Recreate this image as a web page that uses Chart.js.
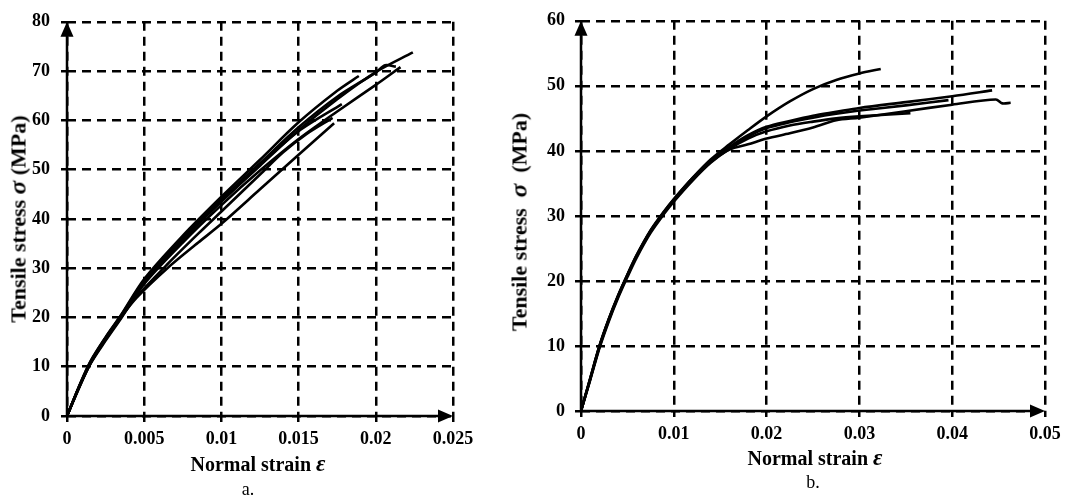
<!DOCTYPE html>
<html>
<head>
<meta charset="utf-8">
<script src="https://cdn.jsdelivr.net/npm/chart.js@4.4.1/dist/chart.umd.min.js"></script>
<style>
  html, body { margin: 0; padding: 0; background: #fff; }
  body { width: 1079px; height: 502px; position: relative; overflow: hidden; font-family: "Liberation Serif", "Times New Roman", serif; color: #000; }
  canvas { position: absolute; top: 0; }
  .t { position: absolute; white-space: nowrap; font-weight: bold; line-height: 1; }
  .t i { font-style: italic; font-size: 1.15em; }
  .xt { transform: translate(-50%, -50%); font-size: 20px; }
  .yt { transform: translate(-50%, -50%) rotate(-90deg) scaleX(1.1); font-size: 20px; }
  .cap { position: absolute; transform: translate(-50%, -50%); font-size: 18px; line-height: 1; }
</style>
</head>
<body>
<canvas id="chartA" width="540" height="502" style="left:0"></canvas>
<canvas id="chartB" width="539" height="502" style="left:540px"></canvas>

<div class="t yt" style="left:18px;top:219px">Tensile stress <i>σ</i> (MPa)</div>
<div class="t xt" style="left:258px;top:463px">Normal strain <i>ε</i></div>
<div class="cap" style="left:248px;top:489px">a.</div>

<div class="t yt" style="left:519px;top:222px">Tensile stress&nbsp; <i>σ</i>&nbsp; (MPa)</div>
<div class="t xt" style="left:815px;top:457px">Normal strain <i>ε</i></div>
<div class="cap" style="left:813px;top:482px">b.</div>

<script>
// ---------- Tick labels ----------
const xTicksA = [0, 0.005, 0.01, 0.015, 0.02, 0.025];
const yTicksA = [0, 10, 20, 30, 40, 50, 60, 70, 80];
const xTicksB = [0, 0.01, 0.02, 0.03, 0.04, 0.05];
const yTicksB = [0, 10, 20, 30, 40, 50, 60];

// ---------- Chart a: [strain, stress MPa] ----------
const a1 = [[0,0],[0.0008,6],[0.0015,10.8],[0.0025,15.8],[0.0035,20.3],[0.005,27.3],[0.0075,36],[0.01,43.5],[0.0125,50.8],[0.015,58],[0.0175,64.3],[0.02,69.8],[0.0224,73.8]];
const a2 = [[0,0],[0.0008,6.2],[0.0015,11],[0.0025,16],[0.0035,20.5],[0.005,27.8],[0.0075,36.6],[0.01,44.5],[0.0125,52],[0.015,59.6],[0.0175,66],[0.0189,69]];
const a3 = [[0,0],[0.0008,5.8],[0.0015,10.5],[0.0025,15.3],[0.0035,19.8],[0.005,26.8],[0.0075,35.2],[0.01,42.8],[0.0125,49.8],[0.015,56.2],[0.0175,61.8],[0.02,67.2],[0.0216,70.8]];
const a4 = [[0,0],[0.0008,6],[0.0015,10.6],[0.0025,15.5],[0.0035,20],[0.005,27],[0.0075,35.6],[0.01,43.6],[0.0125,51],[0.015,57.8],[0.0178,63.3]];
const a5 = [[0,0],[0.0008,6],[0.0015,10.6],[0.0025,15.6],[0.0035,20.1],[0.0045,24],[0.0065,30],[0.0085,35.2],[0.01,39],[0.0125,46],[0.015,53],[0.0173,59.4]];
const a6 = [[0,0],[0.0008,6.1],[0.0015,10.9],[0.0025,15.9],[0.0035,20.4],[0.005,27.5],[0.0075,36.2],[0.01,44],[0.0125,51.3],[0.015,58.6],[0.0175,64.8],[0.02,69.7],[0.0206,71.2],[0.0213,70.9]];
const a7 = [[0,0],[0.0008,6],[0.0015,10.6],[0.0025,15.6],[0.0035,20.1],[0.0045,24.2],[0.0065,30.8],[0.0085,37],[0.01,41.5],[0.0125,49],[0.014,53.5],[0.0155,57.2],[0.0172,60.5]];

// ---------- Chart b: [strain, stress MPa] ----------
const b1 = [[0,0],[0.001,5],[0.002,10],[0.003,14.1],[0.004,17.7],[0.005,20.9],[0.006,23.9],[0.0075,27.7],[0.009,30.7],[0.01,32.5],[0.012,35.8],[0.014,38.7],[0.016,41],[0.018,43.2],[0.02,45.3],[0.0225,47.6],[0.025,49.5],[0.0275,50.9],[0.03,51.9],[0.0323,52.6]];
const b2 = [[0,0],[0.001,5.1],[0.002,10.1],[0.003,14.2],[0.004,17.8],[0.005,21],[0.006,24],[0.0075,27.8],[0.009,30.8],[0.01,32.6],[0.012,35.8],[0.014,38.5],[0.016,40.6],[0.018,42.4],[0.02,43.7],[0.0225,44.6],[0.025,45.4],[0.0275,46],[0.03,46.6],[0.035,47.5],[0.04,48.4],[0.0443,49.3]];
const b3 = [[0,0],[0.001,4.9],[0.002,9.9],[0.003,14],[0.004,17.6],[0.005,20.8],[0.006,23.8],[0.0075,27.6],[0.009,30.6],[0.01,32.4],[0.012,35.6],[0.014,38.4],[0.016,40.5],[0.018,42.2],[0.02,43.5],[0.0225,44.4],[0.025,45.1],[0.0275,45.7],[0.03,46.2],[0.035,47],[0.0396,47.8]];
const b4 = [[0,0],[0.001,4.8],[0.002,9.7],[0.003,13.8],[0.004,17.4],[0.005,20.6],[0.006,23.6],[0.0075,27.4],[0.009,30.4],[0.01,32.2],[0.012,35.4],[0.014,38.2],[0.016,40.3],[0.018,41.9],[0.02,43],[0.0225,43.9],[0.025,44.5],[0.0275,45],[0.03,45.3],[0.0355,45.8]];
const b5 = [[0,0],[0.001,5],[0.002,10],[0.003,14.1],[0.004,17.7],[0.005,20.9],[0.006,23.9],[0.0075,27.7],[0.009,30.6],[0.01,32.4],[0.012,35.6],[0.014,38.3],[0.016,40.2],[0.018,41],[0.02,41.9],[0.0225,42.7],[0.025,43.6],[0.0275,44.7],[0.03,45.1],[0.035,46.1],[0.04,47.1],[0.0447,47.9],[0.0454,47.3],[0.0463,47.4]];

const seriesA = [a1, a2, a3, a4, a5, a6, a7];
const seriesB = [b1, b2, b3, b4, b5];

// ---------- Plugin: solid axes with arrow heads ----------
const axisArrows = {
  id: 'axisArrows',
  afterDatasetsDraw(chart) {
    const { ctx, scales: { x, y } } = chart;
    const x0 = x.getPixelForValue(x.min), x1 = x.getPixelForValue(x.max);
    const y0 = y.getPixelForValue(y.min), y1 = y.getPixelForValue(y.max);
    ctx.save();
    ctx.setLineDash([]);
    ctx.strokeStyle = '#000';
    ctx.fillStyle = '#000';
    ctx.lineWidth = 2.5;
    ctx.beginPath();
    ctx.moveTo(x0, y0); ctx.lineTo(x1 - 8, y0);
    ctx.moveTo(x0, y0); ctx.lineTo(x0, y1 + 8);
    ctx.stroke();
    ctx.beginPath();
    ctx.moveTo(x1, y0); ctx.lineTo(x1 - 15, y0 - 6.5); ctx.lineTo(x1 - 15, y0 + 6.5); ctx.closePath();
    ctx.fill();
    ctx.beginPath();
    ctx.moveTo(x0, y1); ctx.lineTo(x0 - 6.5, y1 + 15); ctx.lineTo(x0 + 6.5, y1 + 15); ctx.closePath();
    ctx.fill();
    ctx.restore();
  }
};

const tickFont = { family: '"Liberation Serif", "Times New Roman", serif', size: 18, weight: 'bold' };

function makeChart(id, series, xMax, xTicks, yMax, yTicks, pad, yWidth, yPad) {
  return new Chart(document.getElementById(id), {
    type: 'scatter',
    data: {
      datasets: series.map(s => ({
        data: s.map(p => ({ x: p[0], y: p[1] })),
        showLine: true,
        borderColor: '#000',
        backgroundColor: '#000',
        borderWidth: 2.6,
        pointRadius: 0,
        pointHoverRadius: 0,
        tension: 0.3,
        fill: false
      }))
    },
    options: {
      responsive: false,
      animation: false,
      devicePixelRatio: 1,
      layout: { padding: pad },
      plugins: { legend: { display: false }, tooltip: { enabled: false } },
      events: [],
      scales: {
        x: {
          type: 'linear', min: 0, max: xMax,
          afterBuildTicks: s => { s.ticks = xTicks.map(v => ({ value: v })); },
          afterFit: s => { s.height = 30; },
          grid: { color: '#000', lineWidth: 2.5, tickLength: 6, tickColor: '#000', tickWidth: 2.5 },
          border: { display: false, dash: [9, 6] },
          ticks: { color: '#000', font: tickFont, padding: 7, maxRotation: 0, autoSkip: false, callback: v => String(v) }
        },
        y: {
          type: 'linear', min: 0, max: yMax,
          afterBuildTicks: s => { s.ticks = yTicks.map(v => ({ value: v })); },
          afterFit: s => { s.width = yWidth; },
          grid: { color: '#000', lineWidth: 2.5, tickLength: 6, tickColor: '#000', tickWidth: 2.5 },
          border: { display: false, dash: [9, 6] },
          ticks: { color: '#000', font: tickFont, padding: yPad, autoSkip: false, callback: v => String(v) }
        }
      }
    },
    plugins: [axisArrows]
  });
}

makeChart('chartA', seriesA, 0.025, xTicksA, 80, yTicksA, { left: 0, top: 16, right: 87, bottom: 56 }, 67, 11);
makeChart('chartB', seriesB, 0.05, xTicksB, 60, yTicksB, { left: 0, top: 18, right: 34, bottom: 61 }, 41, 10);
</script>
</body>
</html>
